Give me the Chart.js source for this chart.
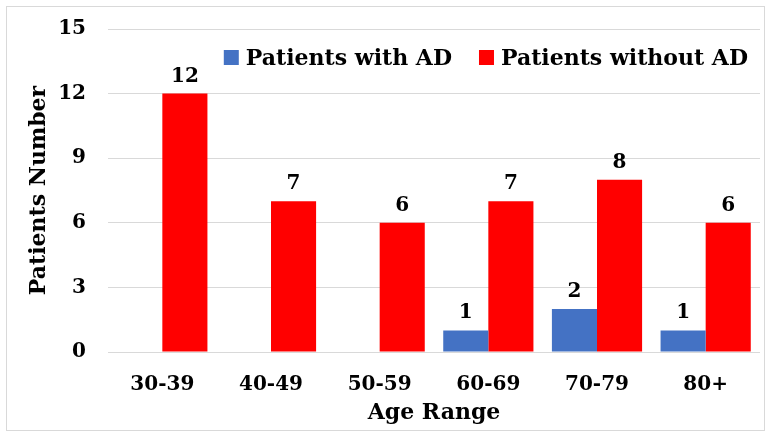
<!DOCTYPE html>
<html>
<head>
<meta charset="utf-8">
<script src="https://cdn.jsdelivr.net/npm/chart.js@4.4.0/dist/chart.umd.min.js"></script>
<style>
  html, body { margin: 0; padding: 0; background: #fff; }
  #wrap { width: 769px; height: 434px; }
</style>
</head>
<body>
<div id="wrap"><canvas id="chart" width="769" height="434"></canvas></div>
<script>
const ageRanges = ["30-39", "40-49", "50-59", "60-69", "70-79", "80+"];
const withAD = [0, 0, 0, 1, 2, 1];
const withoutAD = [12, 7, 6, 7, 8, 6];
const yTicks = [0, 3, 6, 9, 12, 15];

const serif = "'DejaVu Serif', 'Liberation Serif', serif";

// box around the whole chart, value labels above bars, legend inside the plot
const decorPlugin = {
  id: "decor",
  beforeDraw(chart) {
    const ctx = chart.ctx;
    ctx.save();
    ctx.strokeStyle = "#d9d9d9";
    ctx.lineWidth = 1;
    ctx.strokeRect(6.5, 6.5, 758, 424);
    ctx.restore();
  },
  afterDatasetsDraw(chart) {
    const ctx = chart.ctx;
    ctx.save();
    ctx.font = "bold 20px " + serif;
    ctx.fillStyle = "#000";
    ctx.textAlign = "center";
    ctx.textBaseline = "alphabetic";
    chart.data.datasets.forEach((ds, i) => {
      chart.getDatasetMeta(i).data.forEach((bar, j) => {
        if (ds.data[j] > 0) ctx.fillText(ds.data[j], bar.x, bar.y - 12);
      });
    });
    ctx.restore();
  },
  afterDraw(chart) {
    const ctx = chart.ctx;
    const ds = chart.data.datasets;
    ctx.save();
    ctx.font = "bold 22px " + serif;
    ctx.textBaseline = "alphabetic";
    ctx.textAlign = "left";
    const box = 15, gap = 7, itemGap = 27, baseline = 65;
    let x = 748;
    for (let i = ds.length - 1; i >= 0; i--) {
      const w = ctx.measureText(ds[i].label).width;
      x -= w;
      ctx.fillStyle = "#000";
      ctx.fillText(ds[i].label, x, baseline);
      x -= gap + box;
      ctx.fillStyle = ds[i].backgroundColor;
      ctx.fillRect(x, baseline - 15, box, box);
      x -= itemGap;
    }
    ctx.restore();
  },
};

new Chart(document.getElementById("chart"), {
  type: "bar",
  data: {
    labels: ageRanges,
    datasets: [
      {
        label: "Patients with AD",
        data: withAD,
        backgroundColor: "#4472C4",
        barPercentage: 1,
        categoryPercentage: 0.83,
      },
      {
        label: "Patients without AD",
        data: withoutAD,
        backgroundColor: "#FF0000",
        barPercentage: 1,
        categoryPercentage: 0.83,
      },
    ],
  },
  options: {
    responsive: false,
    animation: false,
    layout: { padding: { left: 0, top: 29, right: 9, bottom: 0 } },
    plugins: {
      legend: { display: false },
      tooltip: { enabled: false },
    },
    scales: {
      x: {
        grid: { display: false },
        border: { display: false },
        ticks: {
          padding: 13,
          color: "#000",
          font: { family: serif, size: 20, weight: "bold" },
        },
        title: {
          display: true,
          text: "Age Range",
          color: "#000",
          padding: { top: 0, bottom: 8 },
          font: { family: serif, size: 22, weight: "bold" },
        },
        afterFit: (scale) => { scale.height = 82; },
      },
      y: {
        min: 0,
        max: 15,
        afterBuildTicks: (scale) => {
          scale.ticks = yTicks.map((v) => ({ value: v }));
        },
        grid: { color: "#d9d9d9", drawTicks: false },
        border: { display: false },
        ticks: {
          padding: 22,
          color: "#000",
          font: { family: serif, size: 20, weight: "bold" },
        },
        title: {
          display: true,
          text: "Patients Number",
          color: "#000",
          padding: { top: 26, bottom: 0 },
          font: { family: serif, size: 22, weight: "bold" },
        },
        afterFit: (scale) => {
          scale.width = 108;
          scale.paddingTop = 0;
          scale.paddingBottom = 0;
        },
      },
    },
  },
  plugins: [decorPlugin],
});
</script>
</body>
</html>
